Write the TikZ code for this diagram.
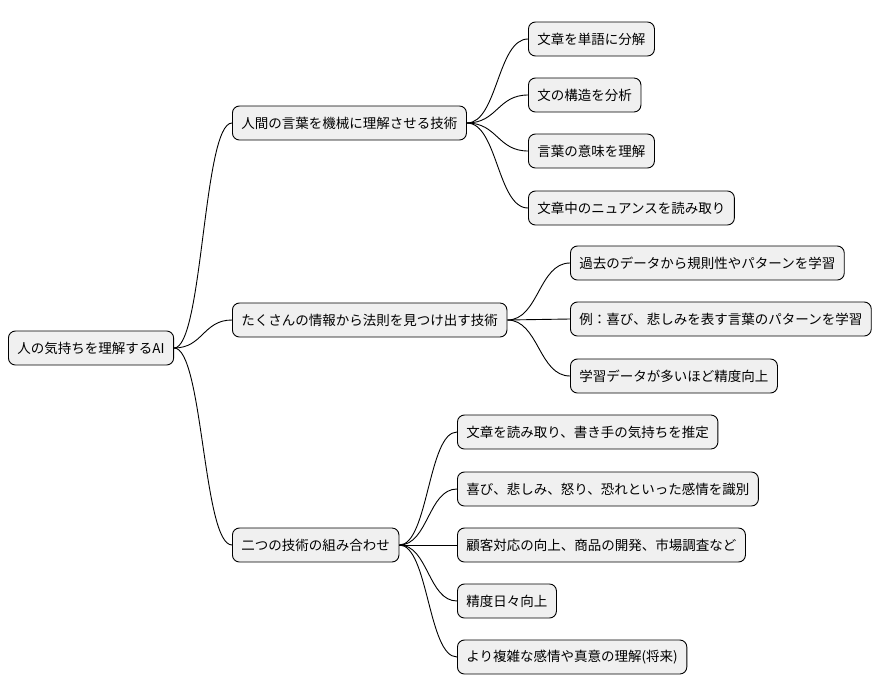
\documentclass[tikz,border=0pt]{standalone}
\usepackage{fontspec}
\newfontfamily\jp{Noto Sans CJK JP}
\begin{document}
\begin{tikzpicture}[x=1pt,y=-1pt,
  box/.style={draw=black,fill=black!6,rounded corners=7pt,line width=0.9pt,
    font=\jp\fontsize{13.5}{16}\selectfont,inner xsep=9pt,minimum height=34pt,anchor=west},
  ln/.style={line width=0.9pt}]
\useasboundingbox (0,0) rectangle (894,696);
\newcommand\conn[2]{%
  \path (#1.east) -- (#2.west) coordinate[pos=0.5] (m);
  \draw[ln] (#1.east) .. controls (m|-#1.east) and (m|-#2.west) .. (#2.west);}
\node[box] (r) at (8,348) {人の気持ちを理解するAI};
\node[box] (a) at (232,123) {人間の言葉を機械に理解させる技術};
\node[box] (b) at (232,320) {たくさんの情報から法則を見つけ出す技術};
\node[box] (c) at (232,545) {二つの技術の組み合わせ};
\node[box] (a1) at (528,39) {文章を単語に分解};
\node[box] (a2) at (528,95) {文の構造を分析};
\node[box] (a3) at (528,151) {言葉の意味を理解};
\node[box] (a4) at (528,208) {文章中のニュアンスを読み取り};
\node[box] (b1) at (570,263) {過去のデータから規則性やパターンを学習};
\node[box] (b2) at (570,319) {例：喜び、悲しみを表す言葉のパターンを学習};
\node[box] (b3) at (570,376) {学習データが多いほど精度向上};
\node[box] (c1) at (457,432) {文章を読み取り、書き手の気持ちを推定};
\node[box] (c2) at (457,489) {喜び、悲しみ、怒り、恐れといった感情を識別};
\node[box] (c3) at (457,545) {顧客対応の向上、商品の開発、市場調査など};
\node[box] (c4) at (457,601) {精度日々向上};
\node[box] (c5) at (457,657) {より複雑な感情や真意の理解(将来)};
\foreach \p/\c in {r/a,r/b,r/c,a/a1,a/a2,a/a3,a/a4,b/b1,b/b2,b/b3,c/c1,c/c2,c/c3,c/c4,c/c5}{\conn{\p}{\c}}
\end{tikzpicture}
\end{document}
